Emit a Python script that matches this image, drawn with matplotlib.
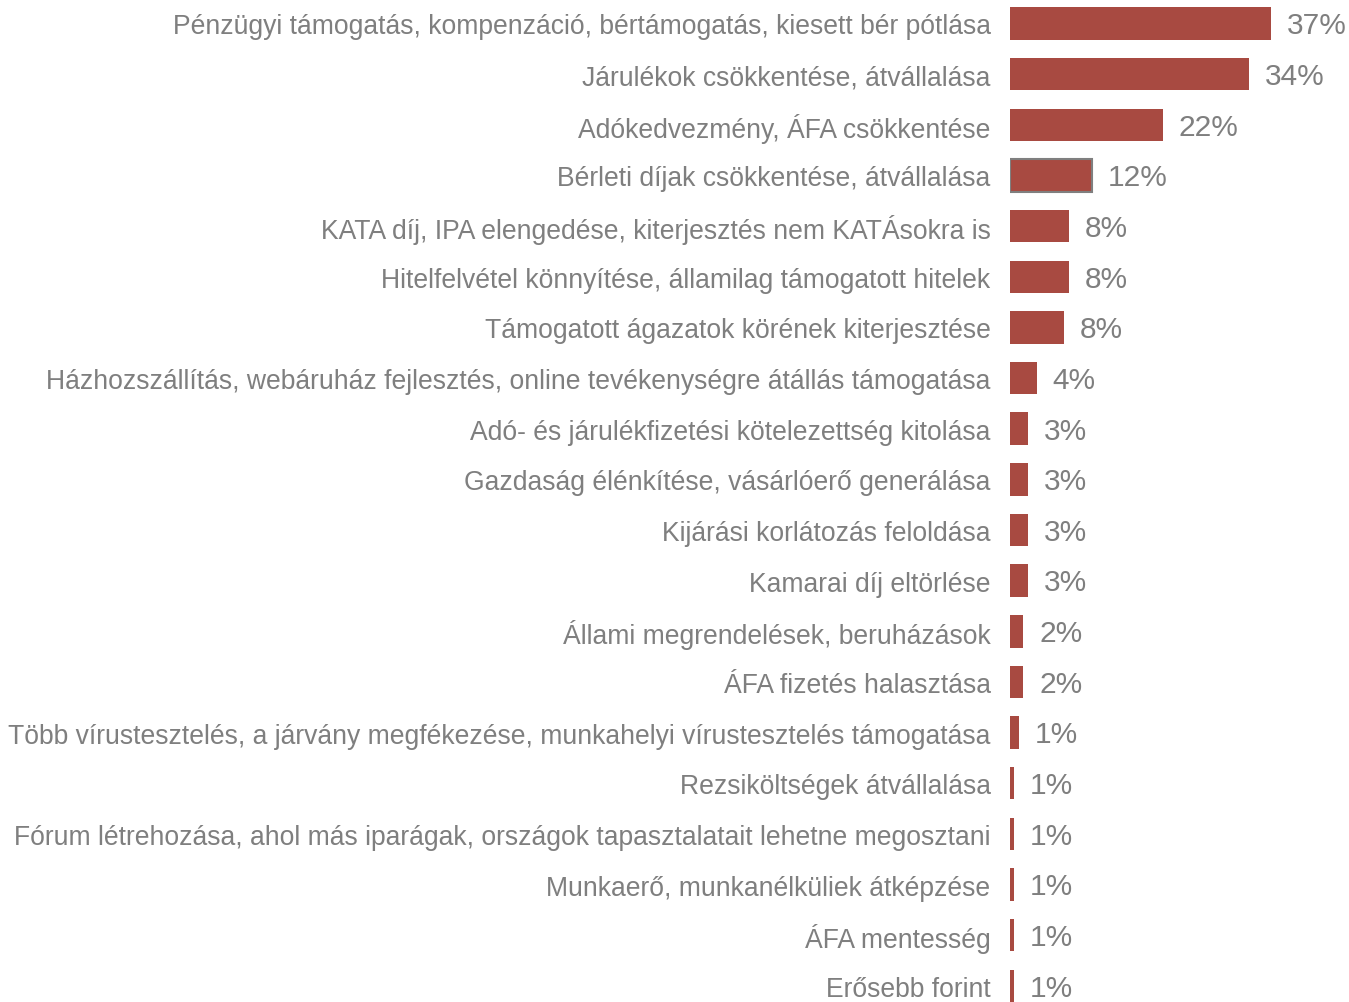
import matplotlib
matplotlib.use("Agg")
import matplotlib.pyplot as plt

categories = [
    "Pénzügyi támogatás, kompenzáció, bértámogatás, kiesett bér pótlása",
    "Járulékok csökkentése, átvállalása",
    "Adókedvezmény, ÁFA csökkentése",
    "Bérleti díjak csökkentése, átvállalása",
    "KATA díj, IPA elengedése, kiterjesztés nem KATÁsokra is",
    "Hitelfelvétel könnyítése, államilag támogatott hitelek",
    "Támogatott ágazatok körének kiterjesztése",
    "Házhozszállítás, webáruház fejlesztés, online tevékenységre átállás támogatása",
    "Adó- és járulékfizetési kötelezettség kitolása",
    "Gazdaság élénkítése, vásárlóerő generálása",
    "Kijárási korlátozás feloldása",
    "Kamarai díj eltörlése",
    "Állami megrendelések, beruházások",
    "ÁFA fizetés halasztása",
    "Több vírustesztelés, a járvány megfékezése, munkahelyi vírustesztelés támogatása",
    "Rezsiköltségek átvállalása",
    "Fórum létrehozása, ahol más iparágak, országok tapasztalatait lehetne megosztani",
    "Munkaerő, munkanélküliek átképzése",
    "ÁFA mentesség",
    "Erősebb forint",
]
values = [37.0, 33.9, 21.7, 11.6, 8.3, 8.3, 7.6, 3.8, 2.5, 2.5, 2.5, 2.5,
          1.9, 1.9, 1.3, 0.6, 0.6, 0.6, 0.6, 0.6]
value_labels = ["37%", "34%", "22%", "12%", "8%", "8%", "8%", "4%", "3%", "3%",
                "3%", "3%", "2%", "2%", "1%", "1%", "1%", "1%", "1%", "1%"]

W, H = 1349, 1003
fig = plt.figure(figsize=(W / 100, H / 100), dpi=100)
plt.rcParams['font.family'] = ['Liberation Sans', 'DejaVu Sans']

x0 = 1010
ax = fig.add_axes([x0 / W, 0, 1 - x0 / W, 1])
px_per_unit = 7.05
ax.set_xlim(0, (W - x0) / px_per_unit)
row = 50.65
first = 24.5
ax.set_ylim((H - first) / row, -first / row)

bar_color = "#A84A41"
text_color = "#7F7F7F"
ypos = list(range(len(categories)))
bars = ax.barh(ypos, values, height=0.64, color=bar_color, edgecolor="none")
bars[3].set_edgecolor("#7F7F7F")
bars[3].set_linewidth(1.5)

for y, v, lab in zip(ypos, values, value_labels):
    ax.annotate(lab, xy=(v, y), xytext=(11.5, -1.3), textcoords="offset points",
                ha="left", va="center", fontsize=21.5, color=text_color)

ax.set_yticks(ypos)
ax.set_yticklabels(categories, fontsize=19.1, color=text_color)
ax.tick_params(axis="y", length=0, pad=14)
ax.set_xticks([])
for s in ax.spines.values():
    s.set_visible(False)
ax.patch.set_alpha(0)

fig.savefig("out.png", dpi=100, facecolor="white")
